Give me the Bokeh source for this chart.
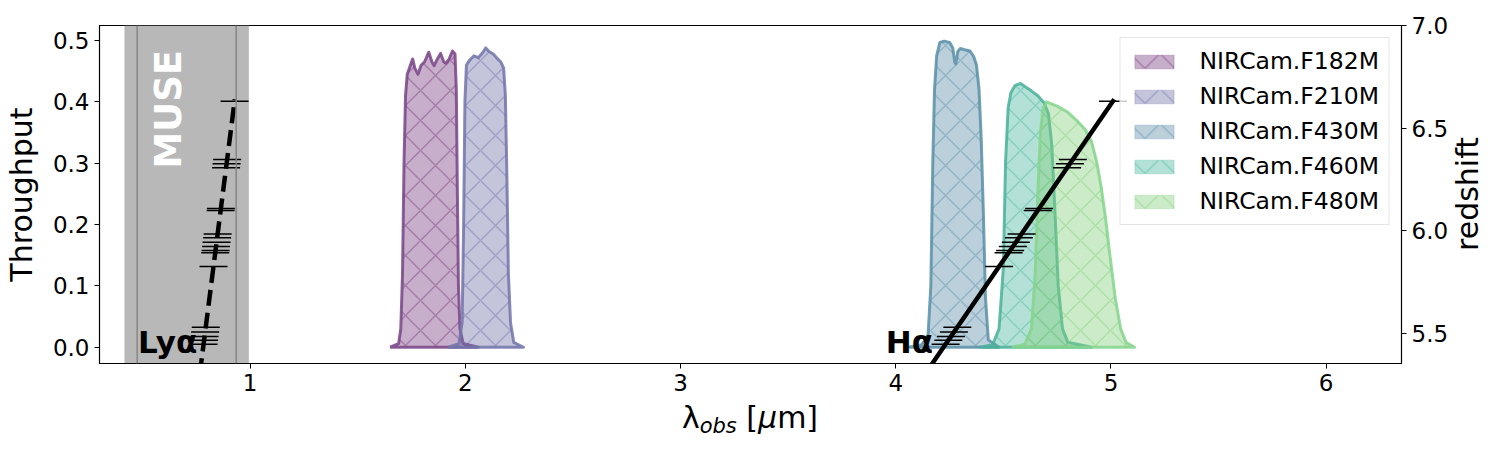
import numpy as np
from bokeh.plotting import figure
from bokeh.layouts import column, row
from bokeh.models import (Range1d, LinearAxis, FixedTicker, NumeralTickFormatter,
                          BoxAnnotation, Span, Label, Legend, LegendItem, Div)
from bokeh.embed import file_html
from bokeh.resources import INLINE

# ---------------- data ----------------
filter_names = ["NIRCam.F182M", "NIRCam.F210M", "NIRCam.F430M", "NIRCam.F460M", "NIRCam.F480M"]
filter_colors = ["#74347a", "#6c6ca6", "#5689a6", "#44b39a", "#7fcc78"]
edge_colors = ["#7a4689", "#7375ab", "#5a91a9", "#4ab29b", "#86d58d"]

f182m_wl = [1.65, 1.69, 1.70, 1.708, 1.715, 1.722, 1.73, 1.745, 1.755, 1.765, 1.78, 1.795, 1.81, 1.83,
            1.845, 1.855, 1.87, 1.885, 1.90, 1.91, 1.925, 1.94, 1.952, 1.958, 1.963, 1.968, 1.975, 1.99, 2.06]
f182m_tp = [0.0, 0.006, 0.03, 0.12, 0.30, 0.41, 0.445, 0.46, 0.47, 0.455, 0.445, 0.46, 0.465, 0.481,
            0.465, 0.459, 0.47, 0.479, 0.465, 0.463, 0.47, 0.483, 0.478, 0.42, 0.25, 0.10, 0.03, 0.006, 0.0]

f210m_wl = [1.92, 1.97, 1.985, 1.992, 1.998, 2.005, 2.02, 2.04, 2.06, 2.08, 2.095, 2.11, 2.13, 2.15,
            2.165, 2.178, 2.186, 2.193, 2.20, 2.21, 2.225, 2.27]
f210m_tp = [0.0, 0.006, 0.04, 0.20, 0.40, 0.46, 0.468, 0.475, 0.472, 0.48, 0.488, 0.482, 0.478, 0.47,
            0.465, 0.455, 0.41, 0.28, 0.12, 0.04, 0.008, 0.0]

f430m_wl = [4.06, 4.12, 4.15, 4.163, 4.172, 4.18, 4.19, 4.205, 4.225, 4.25, 4.265, 4.274, 4.279, 4.288,
            4.30, 4.32, 4.345, 4.362, 4.375, 4.387, 4.397, 4.407, 4.417, 4.43, 4.48]
f430m_tp = [0.0, 0.004, 0.02, 0.10, 0.30, 0.42, 0.475, 0.497, 0.499, 0.497, 0.488, 0.465, 0.462, 0.482,
            0.487, 0.485, 0.483, 0.474, 0.46, 0.42, 0.34, 0.22, 0.08, 0.012, 0.0]

f460m_wl = [4.39, 4.45, 4.48, 4.50, 4.51, 4.522, 4.535, 4.555, 4.58, 4.60, 4.63, 4.66, 4.69, 4.71,
            4.725, 4.74, 4.755, 4.775, 4.80, 4.91]
f460m_tp = [0.0, 0.004, 0.03, 0.13, 0.30, 0.39, 0.415, 0.427, 0.43, 0.425, 0.418, 0.41, 0.398, 0.38,
            0.33, 0.22, 0.10, 0.03, 0.008, 0.0]

f480m_wl = [4.54, 4.60, 4.63, 4.648, 4.66, 4.672, 4.685, 4.70, 4.75, 4.80, 4.84, 4.88, 4.91, 4.935,
            4.955, 4.975, 4.995, 5.02, 5.045, 5.07, 5.11]
f480m_tp = [0.0, 0.005, 0.03, 0.12, 0.25, 0.35, 0.39, 0.40, 0.393, 0.383, 0.37, 0.355, 0.335, 0.30,
            0.26, 0.21, 0.15, 0.08, 0.03, 0.008, 0.0]

filter_wl = [f182m_wl, f210m_wl, f430m_wl, f460m_wl, f480m_wl]
filter_tp = [f182m_tp, f210m_tp, f430m_tp, f460m_tp, f480m_tp]

# galaxy redshifts (markers)
z_gal = [6.631, 6.347, 6.326, 6.306, 6.108, 6.098, 5.984, 5.965, 5.943, 5.922, 5.903, 5.892,
         5.825, 5.529, 5.505, 5.484, 5.465, 5.446]
z_line = [5.30, 6.64]
lya_rest = 0.1215668
ha_rest = 0.6564614

muse_band = [0.416, 0.994]
muse_edges = [0.475, 0.935]

x_ticks = [1, 2, 3, 4, 5, 6]
y_ticks = [0.0, 0.1, 0.2, 0.3, 0.4, 0.5]
z_ticks = [5.5, 6.0, 6.5, 7.0]

FONT = "DejaVu Sans"

# ---------------- figure ----------------
p = figure(frame_width=1302, frame_height=338,
           min_border_left=99, min_border_right=50, min_border_top=25, min_border_bottom=40,
           x_range=Range1d(0.30, 6.35), y_range=Range1d(-0.0265, 0.5245),
           output_backend="svg", toolbar_location=None)
p.extra_y_ranges = {"z": Range1d(5.352, 7.0)}
p.grid.visible = False
p.outline_line_color = "black"
p.outline_line_width = 1.2
p.outline_line_alpha = 1.0
p.background_fill_color = "white"
p.border_fill_color = "white"

def style_axis(ax):
    ax.major_label_text_font = FONT
    ax.major_label_text_font_size = "23px"
    ax.major_label_text_color = "black"
    ax.axis_label_text_font = FONT
    ax.axis_label_text_font_size = "30px"
    ax.axis_label_text_font_style = "normal"
    ax.axis_label_text_color = "black"
    ax.major_tick_in = 0
    ax.major_tick_out = 5
    ax.minor_tick_in = 0
    ax.minor_tick_out = 0
    ax.major_tick_line_color = "black"
    ax.axis_line_color = "black"
    ax.major_label_standoff = 5

p.xaxis.ticker = FixedTicker(ticks=x_ticks)
style_axis(p.xaxis[0])
p.yaxis.ticker = FixedTicker(ticks=y_ticks)
p.yaxis.formatter = NumeralTickFormatter(format="0.0")
p.yaxis.axis_label = "Throughput"
p.yaxis.axis_label_standoff = 11
style_axis(p.yaxis[0])

zax = LinearAxis(y_range_name="z",
                 ticker=FixedTicker(ticks=z_ticks), formatter=NumeralTickFormatter(format="0.0"))
style_axis(zax)
p.add_layout(zax, "right")

# MUSE band
p.add_layout(BoxAnnotation(left=muse_band[0], right=muse_band[1], fill_color="#b8b8b8",
                           fill_alpha=1.0, line_alpha=0, level="underlay"))
for xe in muse_edges:
    p.add_layout(Span(location=xe, dimension="height", line_color="#868686", line_width=1.5))

# filters
items = []
for name, wl, tp, c, ec in zip(filter_names, filter_wl, filter_tp, filter_colors, edge_colors):
    r = p.patch(x=wl, y=tp, fill_color=c, fill_alpha=0.4, line_color=c, line_alpha=0.25,
                line_width=1, hatch_pattern="diagonal_cross", hatch_color=c, hatch_alpha=0.4,
                hatch_scale=30, hatch_weight=1.5)
    p.line(x=list(wl) + [wl[0]], y=list(tp) + [tp[0]], line_color=ec, line_width=3,
           line_alpha=0.85, line_join="round")
    items.append(LegendItem(label=name, renderers=[r]))

# emission line tracks
zl = np.array(z_line)
zg = np.array(z_gal)
p.line(x=lya_rest * (1 + zl), y=zl, y_range_name="z", line_color="black", line_width=4.5,
       line_dash="16 7")
p.line(x=ha_rest * (1 + zl), y=zl, y_range_name="z", line_color="black", line_width=4.5)
p.scatter(x=lya_rest * (1 + zg), y=zg, y_range_name="z", marker="dash", size=28,
          line_color="black", line_width=1.5)
p.scatter(x=ha_rest * (1 + zg), y=zg, y_range_name="z", marker="dash", size=28,
          line_color="black", line_width=1.5)

# text labels
p.add_layout(Label(x=0.62, y=0.291, text="MUSE", angle=np.pi / 2, text_font=FONT,
                   text_font_size="37px", text_font_style="bold", text_color="white",
                   text_align="left", text_baseline="alphabetic"))
p.add_layout(Label(x=0.754, y=0.0093, text="Lyα", text_font=FONT, text_font_size="31px",
                   text_font_style="bold", text_color="black", text_align="right",
                   text_baseline="alphabetic"))
p.add_layout(Label(x=4.173, y=0.0093, text="Hα", text_font=FONT, text_font_size="31px",
                   text_font_style="bold", text_color="black", text_align="right",
                   text_baseline="alphabetic"))

legend = Legend(items=items, location="top_right")
legend.label_text_font = FONT
legend.label_text_font_size = "23.5px"
legend.label_text_color = "black"
legend.glyph_width = 49
legend.glyph_height = 17
legend.label_standoff = 21
legend.spacing = 7
legend.padding = 9
legend.margin = 12
legend.label_height = 27
legend.border_line_color = "#cccccc"
legend.border_line_width = 1
legend.background_fill_alpha = 0.8
p.add_layout(legend)

# right axis label "redshift" (reads bottom to top)
zlabel_html = ('<div style="width:49px;height:388px;display:flex;align-items:center;'
               'justify-content:flex-start;margin:0;padding:0;">'
               '<span style="writing-mode:vertical-rl;transform:rotate(180deg);'
               'font-family:\'DejaVu Sans\';font-size:30px;line-height:30px;color:black;'
               'margin-left:2px;">redshift</span></div>')
zlabel = Div(text=zlabel_html, width=49, height=403, margin=(0, 0, 0, 0))

# x axis label: λ_obs [μm]
xlabel_html = ('<div style="width:1500px;text-align:center;font-family:\'DejaVu Sans\';'
               'font-size:30px;line-height:30px;color:black;margin:0;padding:0;">'
               'λ<span style="font-size:21px;font-style:italic;position:relative;top:5px;">obs</span>'
               ' [<i>μ</i>m]</div>')
xlabel = Div(text=xlabel_html, width=1500, height=45, margin=(0, 0, 0, 0))

layout = column(row(p, zlabel, spacing=0), xlabel, spacing=0)
open("out.html", "w").write(file_html(layout, INLINE))
